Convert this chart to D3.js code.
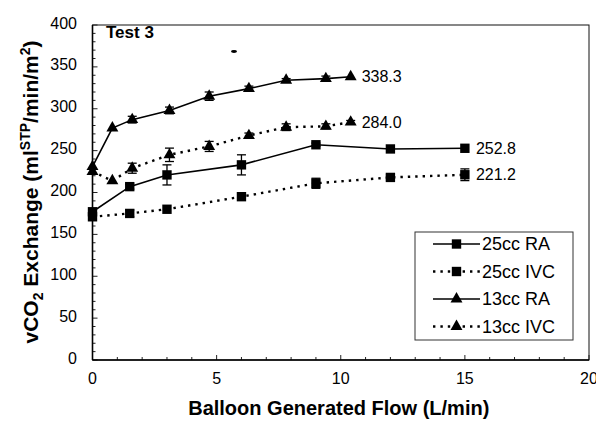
<!DOCTYPE html>
<html><head><meta charset="utf-8">
<script src="https://cdn.jsdelivr.net/npm/d3@7"></script>
<style>body{margin:0;background:#fff}svg{display:block}text{font-family:Arial,"Liberation Sans",sans-serif;fill:#000}</style>
</head><body><svg id="c" width="596" height="424"></svg>
<script>
// ---- data ----
const flowSquares = [0, 1.5, 3, 6, 9, 12, 15];
const flowTriangles = [0, 0.8, 1.6, 3.1, 4.7, 6.3, 7.8, 9.4, 10.4];
const ra25 = [177, 207, 221, 233, 257, 252, 252.8];
const ra25Err = [0, 3, 12, 12, 2, 0, 0];
const ivc25 = [171, 175, 180, 195, 211, 218, 221.2];
const ivc25Err = [0, 4, 0, 0, 6, 3, 7];
const ra13 = [231, 277, 287, 298, 315, 324, 334, 336, 338.3];
const ra13Err = [0, 0, 4, 4, 5, 3, 2, 3, 0];
const ivc13 = [225, 214, 229, 245, 255, 268, 278, 279, 284.0];
const ivc13Err = [0, 0, 6, 8, 6, 3, 4, 3, 2];
const endLabels = ["252.8", "221.2", "338.3", "284.0"];
const seriesNames = ["25cc RA", "25cc IVC", "13cc RA", "13cc IVC"];
const xTicks = [0, 5, 10, 15, 20];
const yTicks = [0, 50, 100, 150, 200, 250, 300, 350, 400];

const series = [
  {name: seriesNames[0], xs: flowSquares, ys: ra25, err: ra25Err, shape: "square", dotted: false, label: endLabels[0]},
  {name: seriesNames[1], xs: flowSquares, ys: ivc25, err: ivc25Err, shape: "square", dotted: true, label: endLabels[1]},
  {name: seriesNames[2], xs: flowTriangles, ys: ra13, err: ra13Err, shape: "triangle", dotted: false, label: endLabels[2]},
  {name: seriesNames[3], xs: flowTriangles, ys: ivc13, err: ivc13Err, shape: "triangle", dotted: true, label: endLabels[3]}
];

const svg = d3.select("#c");
const x = d3.scaleLinear().domain([0, 20]).range([92.5, 589]);
const y = d3.scaleLinear().domain([0, 400]).range([360, 25]);

const symSquare = d3.symbol(d3.symbolSquare, 88);
const symTri = d3.symbol(d3.symbolTriangle, 62);
const sym = s => s === "square" ? symSquare() : symTri();

// frame
svg.append("rect").attr("x", x(0)).attr("y", y(400)).attr("width", x(20) - x(0)).attr("height", y(0) - y(400))
  .attr("fill", "none").attr("stroke", "#111").attr("stroke-width", 1);

// y axis ticks (inward)
const yMinor = d3.range(0, 401, 10);
svg.append("g").selectAll("line").data(yMinor).join("line")
  .attr("x1", x(0)).attr("x2", d => x(0) + (d % 50 === 0 ? 5 : 3))
  .attr("y1", d => y(d)).attr("y2", d => y(d)).attr("stroke", "#222").attr("stroke-width", 1);
svg.append("g").selectAll("text").data(yTicks).join("text")
  .attr("x", 77).attr("y", d => y(d) - 2).attr("dy", "0.35em").attr("text-anchor", "end")
  .attr("font-size", 16).text(d => d);

// x axis ticks (inward)
const xMinor = d3.range(0, 21, 1);
svg.append("g").selectAll("line").data(xMinor).join("line")
  .attr("x1", d => x(d)).attr("x2", d => x(d))
  .attr("y1", y(0)).attr("y2", d => y(0) - (d % 5 === 0 ? 5 : 3)).attr("stroke", "#222").attr("stroke-width", 1);
svg.append("g").selectAll("text").data(xTicks).join("text")
  .attr("x", d => x(d)).attr("y", y(0) + 18).attr("dy", "0.35em").attr("text-anchor", "middle")
  .attr("font-size", 16).text(d => d);

// axis lines heavier
svg.append("line").attr("x1", x(0)).attr("x2", x(0)).attr("y1", y(0)).attr("y2", y(400)).attr("stroke", "#000").attr("stroke-width", 1.6);
svg.append("line").attr("x1", x(0)).attr("x2", x(20)).attr("y1", y(0)).attr("y2", y(0)).attr("stroke", "#000").attr("stroke-width", 1.6);

// axis titles
svg.append("text").attr("x", (x(0) + x(20)) / 2 - 2).attr("y", 415).attr("text-anchor", "middle")
  .attr("font-size", 20).attr("font-weight", "bold").text("Balloon Generated Flow (L/min)");

const yt = svg.append("text").attr("transform", "translate(38,192) rotate(-90)")
  .attr("text-anchor", "middle").attr("font-size", 21).attr("font-weight", "bold");
yt.append("tspan").text("vCO");
yt.append("tspan").attr("font-size", 14).attr("dy", 5).text("2");
yt.append("tspan").attr("dy", -5).text(" Exchange (ml");
yt.append("tspan").attr("font-size", 14).attr("dy", -8).text("STP");
yt.append("tspan").attr("dy", 8).text("/min/m");
yt.append("tspan").attr("font-size", 14).attr("dy", -8).text("2");
yt.append("tspan").attr("dy", 8).text(")");

// Test 3 label
svg.append("text").attr("x", 106).attr("y", 38).attr("font-size", 17).attr("font-weight", "bold").text("Test 3");
// small stray mark present in the original scan
svg.append("ellipse").attr("cx", 234).attr("cy", 51.5).attr("rx", 3).attr("ry", 1.4).attr("fill", "#000");

// series
series.forEach(s => {
  const pts = s.xs.map((v, i) => [v, s.ys[i], s.err[i]]);
  const g = svg.append("g");
  g.append("path").datum(pts)
    .attr("d", d3.line().x(d => x(d[0])).y(d => y(d[1])))
    .attr("fill", "none").attr("stroke", "#000")
    .attr("stroke-width", s.dotted ? 2.4 : 1.6)
    .attr("stroke-dasharray", s.dotted ? "2.4,5" : null);
  // error bars
  pts.filter(d => d[2] > 0).forEach(d => {
    const cx = x(d[0]), y1 = y(d[1] - d[2]), y2 = y(d[1] + d[2]);
    g.append("line").attr("x1", cx).attr("x2", cx).attr("y1", y1).attr("y2", y2).attr("stroke", "#000").attr("stroke-width", 1.3);
    g.append("line").attr("x1", cx - 4.5).attr("x2", cx + 4.5).attr("y1", y1).attr("y2", y1).attr("stroke", "#000").attr("stroke-width", 1.3);
    g.append("line").attr("x1", cx - 4.5).attr("x2", cx + 4.5).attr("y1", y2).attr("y2", y2).attr("stroke", "#000").attr("stroke-width", 1.3);
  });
  g.selectAll("path.m").data(pts).join("path").attr("class", "m")
    .attr("transform", d => `translate(${x(d[0])},${y(d[1])})`)
    .attr("d", sym(s.shape)).attr("fill", "#000");
  const last = pts[pts.length - 1];
  g.append("text").attr("x", x(last[0]) + 11).attr("y", y(last[1])).attr("dy", "0.35em")
    .attr("font-size", 16).text(s.label);
});

// legend
const lg = svg.append("g");
lg.append("rect").attr("x", 415).attr("y", 232).attr("width", 158).attr("height", 108)
  .attr("fill", "#fff").attr("stroke", "#333").attr("stroke-width", 1);
series.forEach((s, i) => {
  const ly = 244 + i * 27.5;
  lg.append("line").attr("x1", 433).attr("x2", 480).attr("y1", ly).attr("y2", ly)
    .attr("stroke", "#000").attr("stroke-width", s.dotted ? 2.4 : 1.6)
    .attr("stroke-dasharray", s.dotted ? "2.4,5" : null);
  lg.append("path").attr("transform", `translate(456.5,${ly})`).attr("d", sym(s.shape)).attr("fill", "#000");
  lg.append("text").attr("x", 482).attr("y", ly).attr("dy", "0.35em").attr("font-size", 18).text(s.name);
});
</script></body></html>
